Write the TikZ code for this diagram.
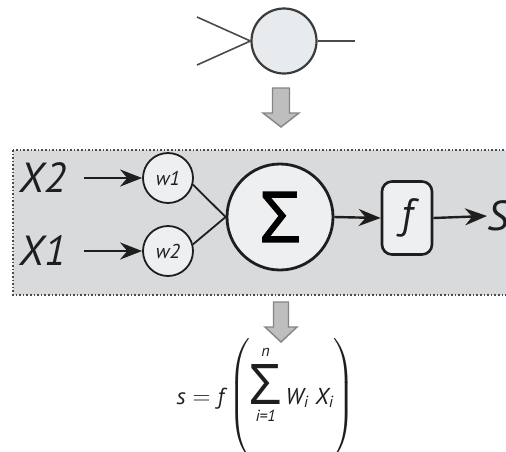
\documentclass[tikz,border=0pt]{standalone}
\usepackage{fontspec}
\setmainfont{PT Sans}
\newfontfamily\sigmafont{Open Sans}
\newfontfamily\sigmaheavy{Open Sans}[FakeBold=1.6]
\usepackage{amsmath}
\usepackage{xcolor}
\definecolor{panelGray}{HTML}{D9DADC}
\definecolor{cellFill}{HTML}{EEEFF1}
\definecolor{somaFill}{HTML}{E8EBEE}
\definecolor{edgeDark}{HTML}{1E1E1E}
\definecolor{wireGray}{HTML}{4A4A4A}
\definecolor{blockFill}{HTML}{BEBEBE}
\definecolor{blockEdge}{HTML}{858585}
\usepackage{tikz}
\usetikzlibrary{
    arrows.meta,
    positioning,
    calc
}
\tikzset{
    % Base style for all labels
    label base/.style={
        font=\itshape,
        text=edgeDark,
        inner sep=0pt,
    },
    % Input labels X1, X2 and output S
    signal/.style={
        label base,
        font=\fontsize{42}{42}\selectfont\itshape,
    },
    % Weight cells
    weight/.style={
        label base,
        circle,
        draw=edgeDark,
        line width=1.8pt,
        fill=cellFill,
        minimum size=50pt,
        font=\fontsize{20}{20}\selectfont\itshape,
    },
    % Summing junction
    summer/.style={
        circle,
        draw=edgeDark,
        line width=2.8pt,
        fill=cellFill,
        minimum size=106pt,
        inner sep=0pt,
        font=\fontsize{70}{70}\selectfont\sigmaheavy,
    },
    % Activation box
    activation/.style={
        label base,
        rectangle,
        rounded corners=10pt,
        draw=edgeDark,
        line width=2.6pt,
        fill=cellFill,
        minimum width=50pt,
        minimum height=73pt,
        font=\fontsize{42}{42}\selectfont\itshape,
    },
    % Plain neuron on top
    soma/.style={
        circle,
        draw=wireGray!80!black,
        line width=2.2pt,
        fill=somaFill,
        minimum size=65pt,
    },
    wire/.style={
        draw=wireGray,
        line width=1.6pt,
    },
    % Signal arrow
    arrow/.style={
        -{Stealth[length=22pt, width=17pt]},
        line width=2.4pt,
        draw=edgeDark,
    },
    link/.style={
        line width=1.8pt,
        draw=edgeDark,
    },
    % Grey block arrows between the views
    blockarrow/.style={
        draw=blockEdge,
        line width=1.4pt,
        fill=blockFill,
        line join=miter,
    },
    panel/.style={
        draw=wireGray,
        dotted,
        line width=1.6pt,
        fill=panelGray,
    },
}

\begin{document}
\begin{tikzpicture}[x=1pt, y=-1pt]
    \useasboundingbox (0,0) rectangle (506,451);
    \clip (0,0) rectangle (506,451);

    % top neuron
    \node (neuron) [soma] at (284,41) {};
    \coordinate (in1) at (197,17);
    \coordinate (in2) at (197,65);
    \coordinate (out) at (355,41);
    \draw [wire] (in1) -- (neuron.west);
    \draw [wire] (in2) -- (neuron.west);
    \draw [wire] (neuron.east) -- (out);

    \draw [blockarrow] (272.5,88) -- (289.5,88) -- (289.5,113) -- (299,113)
        -- (281,127) -- (263,113) -- (272.5,113) -- cycle;

    % expanded model
    \filldraw [panel] (13,150) rectangle (540,295);

    \node (x2) [signal] at (43,178) {X2};
    \node (x1) [signal] at (43,251) {X1};
    \node (w1) [weight] at (168,178) {w1};
    \node (w2) [weight] at (168,251) {w2};
    \node (sigma) [summer] at (280,217) {Σ};
    \node (fbox) [activation] at (407,218) {f};
    \node (s) [signal, anchor=west] at (487,216) {S};

    \draw [arrow] ([xshift=18pt]x2.east) -- (w1.west);
    \draw [arrow] ([xshift=18pt]x1.east) -- (w2.west);
    \draw [link] (w1.-15) -- (sigma.west);
    \draw [link] (w2.15) -- (sigma.west);
    \draw [arrow] (sigma.east) -- (fbox.west);
    \draw [arrow] (fbox.east) -- (s.west);

    \draw [blockarrow] (273.5,302) -- (288.5,302) -- (288.5,327) -- (297,327)
        -- (281,342) -- (265,327) -- (273.5,327) -- cycle;

    % formula
    \node (formula) [anchor=base, inner sep=0pt, text=edgeDark,
        font=\fontsize{23}{27}\selectfont] at (266,404)
        {$\displaystyle \textit{s} = \textit{f}\left(\mathop{\text{\sigmafont\fontsize{56}{56}\selectfont Σ}}\limits^{\textit{n}\vphantom{|}}_{\vphantom{|}\textit{i=1}} \textit{W}_{\textit{i}}\;\textit{X}_{\textit{i}}\right)$};
\end{tikzpicture}
\end{document}
